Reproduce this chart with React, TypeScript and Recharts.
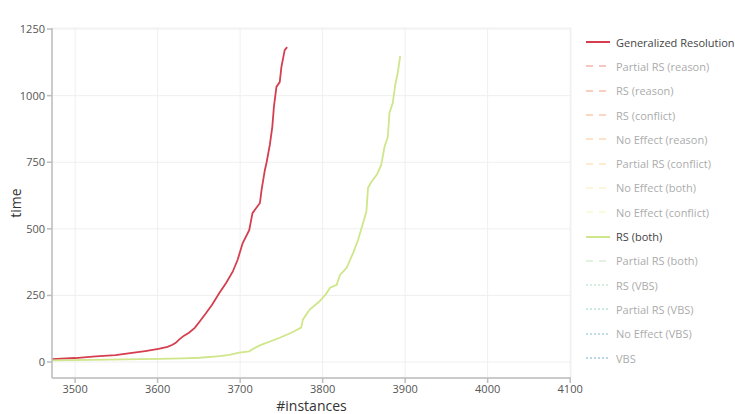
import React from "react";
import {
  LineChart,
  Line,
  XAxis,
  YAxis,
  CartesianGrid,
} from "recharts";

// Generalized Resolution curve
const grInstances = [
  3472, 3500, 3525, 3549, 3569, 3585, 3601, 3612, 3618, 3622, 3626, 3632, 3638,
  3645, 3651, 3659, 3666, 3675, 3683, 3691, 3697, 3703, 3711, 3715, 3724, 3726,
  3730, 3732, 3736, 3739, 3741, 3744, 3748, 3750, 3754, 3757,
];
const grTime = [
  11, 15, 21, 26, 34, 41, 49, 57, 65, 72, 84, 99, 110, 128, 152, 185, 215, 260,
  297, 339, 384, 446, 495, 559, 597, 646, 721, 748, 815, 883, 960, 1033, 1051,
  1107, 1171, 1182,
];

// RS (both) curve
const rsBothInstances = [
  3472, 3520, 3560, 3601, 3630, 3651, 3675, 3687, 3699, 3711, 3719, 3726, 3737,
  3748, 3762, 3774, 3776, 3784, 3796, 3804, 3809, 3817, 3821, 3829, 3837, 3843,
  3849, 3853, 3855, 3859, 3866, 3871, 3875, 3879, 3881, 3885, 3888, 3891, 3894,
];
const rsBothTime = [
  6, 8, 10, 12, 14, 16, 22, 27, 35, 40, 55, 65, 78, 91, 110, 129, 159, 196, 227,
  255, 279, 290, 327, 353, 410, 459, 522, 564, 654, 676, 705, 740, 808, 845, 935,
  973, 1040, 1085, 1148,
];

const xTicks = [3500, 3600, 3700, 3800, 3900, 4000, 4100];
const yTicks = [0, 250, 500, 750, 1000, 1250];

// legend entries (only two are shown on the plot)
const legendNames = [
  "Generalized Resolution",
  "Partial RS (reason)",
  "RS (reason)",
  "RS (conflict)",
  "No Effect (reason)",
  "Partial RS (conflict)",
  "No Effect (both)",
  "No Effect (conflict)",
  "RS (both)",
  "Partial RS (both)",
  "RS (VBS)",
  "Partial RS (VBS)",
  "No Effect (VBS)",
  "VBS",
];
const legendColors = [
  "#d53e4f", "#ec5a49", "#f46d43", "#f88d52", "#fdae61", "#fec877", "#fee08b",
  "#eef5a0", "#cfe68a", "#abdda4", "#88d0a4", "#66c2a5", "#4ba5b6", "#3288bd",
];
const legendDash = [
  "", "7 6", "7 6", "7 6", "7 6", "7 6", "7 6", "7 6", "", "7 6", "2 2", "2 2", "2 2", "2 2",
];
const legendVisible = [
  true, false, false, false, false, false, false, false, true, false, false, false, false, false,
];

const grData = grInstances.map((x, i) => ({ x, y: grTime[i] }));
const rsBothData = rsBothInstances.map((x, i) => ({ x, y: rsBothTime[i] }));

const FONT = "'Open Sans', 'Noto Sans', sans-serif";
const AXIS_COLOR = "#bdbdbd";

const YLabel = (props: any) => {
  const vb = props.viewBox || {};
  const cx = (vb.x || 0) + 15;
  const cy = (vb.y || 0) + (vb.height || 0) / 2;
  return (
    <text
      x={cx}
      y={cy}
      transform={`rotate(-90 ${cx} ${cy})`}
      textAnchor="middle"
      dominantBaseline="central"
      fontSize={14}
      fill="#333"
      fontFamily={FONT}
    >
      time
    </text>
  );
};

const ChartLegend = () => (
  <div style={{ position: "absolute", left: 584, top: 30, fontFamily: FONT }}>
    {legendNames.map((name, i) => (
      <div
        key={name}
        style={{
          display: "flex",
          alignItems: "center",
          height: 24.3,
          opacity: legendVisible[i] ? 1 : 0.45,
        }}
      >
        <svg width={30} height={10}>
          <line
            x1={2}
            y1={5}
            x2={26}
            y2={5}
            stroke={legendColors[i]}
            strokeWidth={legendVisible[i] ? 2 : 1.5}
            strokeDasharray={legendDash[i] || undefined}
          />
        </svg>
        <span style={{ fontSize: 11, color: "#444", marginLeft: 2 }}>{name}</span>
      </div>
    ))}
  </div>
);

const App = () => {
  return (
    <div
      style={{
        position: "absolute",
        left: 0,
        top: 0,
        width: 735,
        height: 414,
        background: "#fff",
      }}
    >
      <LineChart
        width={735}
        height={414}
        margin={{ top: 28, right: 164, bottom: 0, left: 0 }}
      >
        <CartesianGrid stroke="#efefef" strokeWidth={1} />
        <XAxis
          type="number"
          dataKey="x"
          domain={[3472, 4101]}
          ticks={xTicks}
          allowDataOverflow
          height={36}
          stroke={AXIS_COLOR}
          strokeWidth={1.5}
          tickSize={5}
          tickMargin={2}
          tick={{ fontSize: 11, fill: "#555", fontFamily: FONT }}
          label={{
            value: "#instances",
            position: "insideBottom",
            offset: 3,
            fontSize: 14,
            fill: "#333",
            fontFamily: FONT,
          }}
        />
        <XAxis
          xAxisId="top"
          orientation="top"
          type="number"
          domain={[3472, 4101]}
          allowDataOverflow
          height={0}
          tick={false}
          tickLine={false}
          stroke={AXIS_COLOR}
          strokeWidth={1.5}
        />
        <YAxis
          type="number"
          domain={[-60, 1254]}
          ticks={yTicks}
          allowDataOverflow
          width={52}
          stroke={AXIS_COLOR}
          strokeWidth={1.5}
          tickSize={5}
          tickMargin={2}
          tick={{ fontSize: 11, fill: "#555", fontFamily: FONT }}
          label={<YLabel />}
        />
        <YAxis
          yAxisId="right"
          orientation="right"
          type="number"
          domain={[-60, 1254]}
          allowDataOverflow
          width={0}
          tick={false}
          tickLine={false}
          stroke={AXIS_COLOR}
          strokeWidth={1.5}
        />
        <Line
          data={grData}
          dataKey="y"
          type="linear"
          stroke="#d53e4f"
          strokeWidth={1.8}
          dot={false}
          isAnimationActive={false}
        />
        <Line
          data={rsBothData}
          dataKey="y"
          type="linear"
          stroke="#cfe68a"
          strokeWidth={1.8}
          dot={false}
          isAnimationActive={false}
        />
      </LineChart>
      <ChartLegend />
    </div>
  );
};

export default App;
